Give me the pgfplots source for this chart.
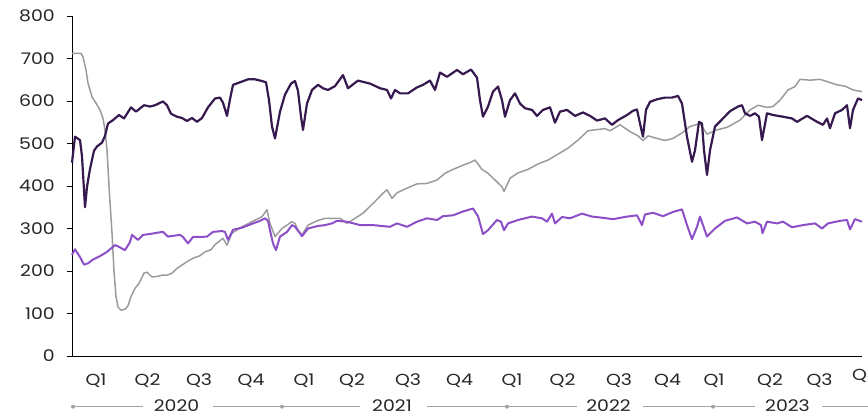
\documentclass[border=0pt]{standalone}
\usepackage{fontspec}
\setmainfont{Poppins}[FakeStretch=1.18]
\usepackage{pgfplots}
\pgfplotsset{compat=1.18}
\usepackage{pgfplotstable}

\definecolor{darkpurp}{HTML}{35194F}
\definecolor{midpurp}{HTML}{8C4FC7}
\definecolor{greyline}{HTML}{9B9B9B}
\definecolor{rulegrey}{HTML}{A3A3A3}
\definecolor{labeltext}{HTML}{262626}

% x = position along the time axis (0 = start of 2020), y = value
\pgfplotstableread{
t v
0 455
3 516
8 508
10 470
13 350
15 398
18 440
22 483
25 493
30 502
33 518
36 547
41 555
47 567
52 559
59 585
64 575
72 590
78 587
83 590
91 599
95 590
99 570
105 563
110 560
115 553
120 560
125 551
130 560
136 585
143 606
148 608
151 596
155 565
158 604
161 638
168 644
176 651
183 651
190 647
194 644
197 602
200 540
203 512
208 575
213 615
219 641
223 647
226 624
229 563
231 532
235 594
240 626
246 638
251 630
256 626
263 635
271 661
276 630
286 648
298 641
308 630
315 626
319 606
323 626
328 618
336 618
345 632
351 638
358 648
363 626
368 667
375 657
385 673
391 663
399 674
405 655
408 602
411 563
416 587
421 622
426 634
430 602
433 563
438 602
443 618
448 594
453 583
460 579
465 565
471 579
478 585
483 549
488 575
495 579
503 565
511 573
518 565
525 554
533 559
540 544
546 555
555 567
561 577
565 580
568 547
571 516
574 579
578 598
585 604
593 608
600 608
606 612
610 594
615 516
620 457
623 484
627 551
630 547
632 484
635 426
638 484
643 540
651 559
658 576
666 587
670 590
673 571
678 565
683 571
687 563
690 508
695 571
701 567
711 563
720 559
725 551
735 565
745 551
751 544
755 559
758 536
763 571
770 579
775 590
778 536
781 579
786 606
790 602
}\darkdata

\pgfplotstableread{
t v
0 712
9 712
11 704
14 673
16 642
20 610
25 591
28 579
31 559
33 532
35 485
37.5 380
40 290
42 200
44 140
46 115
49 108
53 110
56 118
59 140
63 159
67 171
72 195
75 197
80 186
85 187
90 190
95 190
100 195
105 206
110 214
115 222
121 230
128 236
133 245
139 250
143 262
151 277
155 261
160 289
170 304
180 316
190 328
195 344
198 312
203 281
210 300
220 316
223 312
226 296
230 285
236 308
245 318
253 324
260 324
268 324
275 312
283 324
291 336
301 359
311 383
315 391
320 371
325 384
335 395
345 405
355 406
365 414
373 430
381 439
391 449
398 455
403 461
410 439
416 430
423 414
430 398
432 387
438 418
446 431
456 439
466 452
476 461
486 475
496 489
506 508
516 530
526 533
533 535
538 530
548 544
558 528
566 518
571 507
576 518
585 512
593 507
601 512
610 525
618 540
628 547
635 522
645 532
655 538
668 555
678 579
686 590
695 585
701 587
708 602
716 626
723 634
728 651
738 649
748 651
756 645
765 638
773 635
781 626
790 622
}\greydata

\pgfplotstableread{
t v
0 238
3 251
8 233
12 215
16 218
21 227
28 235
35 245
41 257
43 261
46 258
53 249
58 268
60 285
66 273
71 285
78 287
85 290
91 292
96 281
102 283
108 285
111 280
116 265
121 280
128 280
135 281
141 292
150 294
153 292
156 273
161 297
170 302
180 311
188 318
193 324
196 318
198 296
201 265
204 249
208 281
215 292
220 308
223 304
227 292
230 282
236 300
246 306
253 308
260 312
265 318
275 316
288 308
301 308
318 304
325 312
335 304
345 316
355 324
365 320
371 329
381 331
391 340
398 345
401 347
406 329
411 287
416 296
425 320
429 316
432 296
436 312
446 320
460 328
470 324
475 316
480 335
483 312
490 327
498 324
510 335
520 328
528 326
541 322
555 328
565 331
570 308
573 333
581 337
591 329
601 339
610 345
615 308
620 275
625 304
628 328
635 281
643 300
653 318
665 326
675 312
683 316
689 308
690.5 289
695 316
705 312
711 316
720 303
731 308
743 312
750 300
756 312
768 318
775 320
778 298
783 322
790 316
}\lightdata

\begin{document}
\begin{tikzpicture}[x=1pt,y=1pt]
\begin{axis}[
    at={(72pt,61pt)}, anchor=origin,
    scale only axis,
    width=790pt, height=340pt,
    xmin=0, xmax=790,
    ymin=0, ymax=800,
    axis x line*=bottom,
    axis y line*=left,
    axis line style={black, line width=0.9pt},
    ytick={0,100,200,300,400,500,600,700,800},
    yticklabels={0,100,200,300,400,500,600,700,800},
    tick align=outside,
    major tick length=5pt,
    ytick style={black, line width=0.8pt},
    xtick style={draw=none},
    xtick={24,75.5,127,179,232,280,336,387.5,440,490.5,547,595.5,642,698,747.5},
    xticklabels={Q1,Q2,Q3,Q4,Q1,Q2,Q3,Q4,Q1,Q2,Q3,Q4,Q1,Q2,Q3},
    every tick label/.append style={font=\fontsize{16}{19}\selectfont, text=labeltext},
    yticklabel style={anchor=east, inner sep=0pt, xshift=-12pt},
    xticklabel style={anchor=base, inner sep=0pt, yshift=-25pt},
    clip=false,
]
\addplot[greyline, line width=1.5pt, line join=round] table[x=t, y=v] {\greydata};
\addplot[midpurp, line width=2pt, line join=round] table[x=t, y=v] {\lightdata};
\addplot[darkpurp, line width=2.2pt, line join=round] table[x=t, y=v] {\darkdata};
\end{axis}
% last, partly cut quarter label
\node[font=\fontsize{16}{19}\selectfont, text=labeltext, anchor=base, inner sep=0pt] at (865.5,36) {Q4};
% year row
\begin{scope}[rulegrey, line width=0.9pt]
\fill (73,10.3) circle (2pt);
\draw (73,10.3) -- (143,10.3);
\draw (213,10.3) -- (360,10.3);
\fill (282,10.3) circle (2pt);
\draw (427,10.3) -- (577,10.3);
\fill (507,10.3) circle (2pt);
\draw (643,10.3) -- (755,10.3);
\fill (713,10.3) circle (2pt);
\draw (822,10.3) -- (870,10.3);
\end{scope}
\begin{scope}[every node/.style={font=\fontsize{16}{19}\selectfont, text=labeltext, inner sep=0pt}]
\node at (176.5,11.5) {2020};
\node at (392,11.5) {2021};
\node at (608.5,11.5) {2022};
\node at (787.5,11.5) {2023};
\end{scope}
\pgfresetboundingbox
\path[use as bounding box] (0,0) rectangle (868,417);
\end{tikzpicture}
\end{document}
